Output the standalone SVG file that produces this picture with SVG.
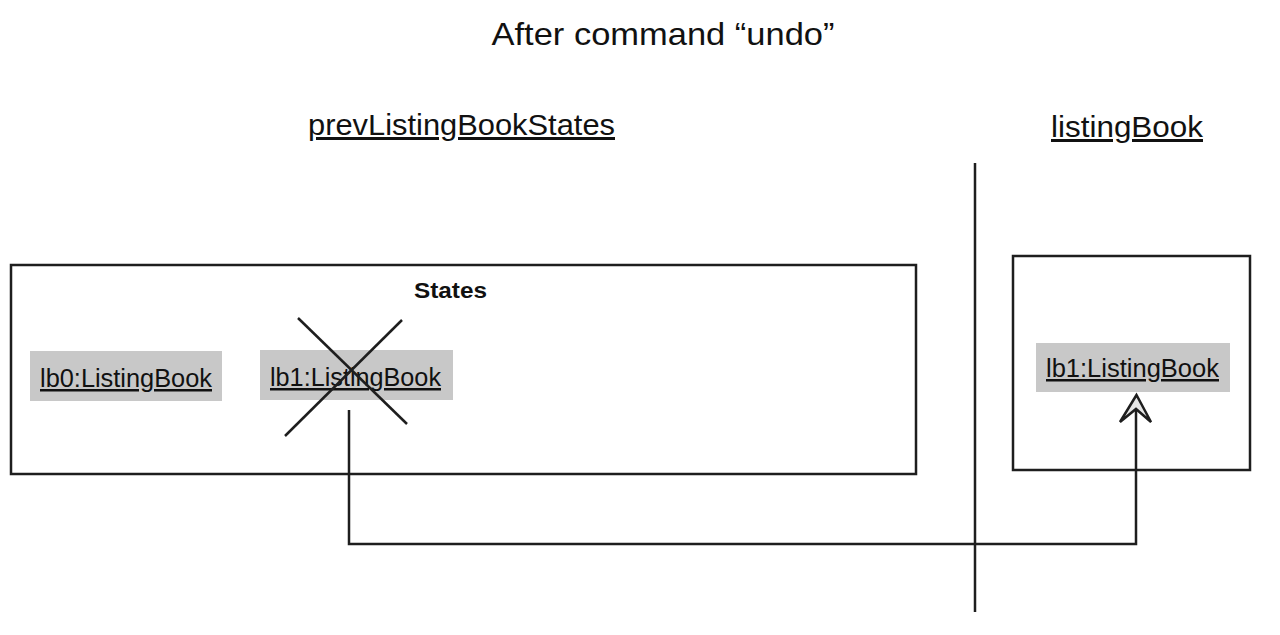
<svg xmlns="http://www.w3.org/2000/svg" width="1280" height="635" viewBox="0 0 1280 635">
<style>
.ln{stroke:#1e1e1e;stroke-width:2.5;fill:none}
.box{fill:#c8c8c8}
.t{font-family:"Liberation Sans",Arial,sans-serif;fill:#111}
.lbl{font-size:25px;text-decoration:underline}
.hdr{font-size:30px;text-decoration:underline}
</style>
<rect width="1280" height="635" fill="#ffffff"/>
<text class="t" x="663" y="45" font-size="32" text-anchor="middle" textLength="343" lengthAdjust="spacingAndGlyphs">After command “undo”</text>
<text class="t hdr" x="308" y="135" textLength="307" lengthAdjust="spacingAndGlyphs">prevListingBookStates</text>
<text class="t hdr" x="1051" y="137" textLength="152" lengthAdjust="spacingAndGlyphs">listingBook</text>
<line class="ln" x1="975" y1="163" x2="975" y2="612"/>
<g id="states">
<rect class="ln" x="11" y="265" width="905" height="209"/>
<text class="t" x="414" y="298" font-size="22" font-weight="bold" textLength="73" lengthAdjust="spacingAndGlyphs">States</text>
</g>
<g id="lb0">
<rect class="box" x="30" y="351" width="192" height="50"/>
<text class="t lbl" x="40" y="387" textLength="172" lengthAdjust="spacingAndGlyphs">lb0:ListingBook</text>
</g>
<g id="lb1-old">
<rect class="box" x="260" y="350" width="193" height="50"/>
<text class="t lbl" x="270" y="386" textLength="171" lengthAdjust="spacingAndGlyphs">lb1:ListingBook</text>
<line class="ln" x1="298" y1="318" x2="407" y2="424"/>
<line class="ln" x1="402" y1="320" x2="285" y2="436"/>
</g>
<g id="listingBook">
<rect class="ln" x="1013" y="256" width="237" height="214"/>
</g>
<g id="lb1-current">
<rect class="box" x="1036" y="343" width="194" height="49"/>
<text class="t lbl" x="1046" y="377" textLength="173" lengthAdjust="spacingAndGlyphs">lb1:ListingBook</text>
</g>
<g id="connectors">
<polyline class="ln" points="349,410 349,544 1136,544 1136,410"/>
<path d="M1136.5,395 L1120,422 L1136,409 L1151,422 Z" fill="#e6e6e6" stroke="#1e1e1e" stroke-width="2.5" stroke-linejoin="miter"/>
</g>
</svg>
